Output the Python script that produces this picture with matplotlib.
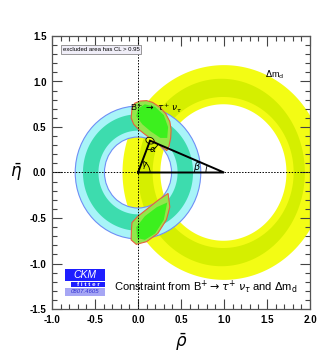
import matplotlib
matplotlib.use("Agg")
import matplotlib.pyplot as plt
import numpy as np
from matplotlib.path import Path
from matplotlib.patches import PathPatch, Arc, Ellipse, Rectangle

plt.rcParams['font.family'] = ['Liberation Sans', 'DejaVu Sans']
plt.rcParams['axes.unicode_minus'] = False
plt.rcParams['mathtext.fontset'] = 'dejavusans'

# axis ticks
rho_ticks = [-1.0, -0.5, 0.0, 0.5, 1.0, 1.5, 2.0]
eta_ticks = [-1.5, -1.0, -0.5, 0.0, 0.5, 1.0, 1.5]

# B+ -> tau nu ring, centred on the origin: outer, 1 sigma outer, 1 sigma inner, inner
btau_radii = [0.73, 0.64, 0.46, 0.39]

# Delta m_d ring around (1, 0): (centre rho, half width, half height)
dmd_outer = (1.00, 1.18, 1.18)
dmd_dark_outer = (0.97, 0.97, 1.03)
dmd_dark_inner = (0.99, 0.82, 0.83)
dmd_inner = (0.993, 0.733, 0.75)

# combined regions
top_rho = [-0.07, -0.04, 0.02, 0.10, 0.17, 0.25, 0.32, 0.37, 0.385, 0.38, 0.36, 0.335,
           0.28, 0.18, 0.08, 0.00, -0.05, -0.08]
top_eta = [0.70, 0.76, 0.785, 0.79, 0.77, 0.72, 0.65, 0.56, 0.47, 0.38, 0.29, 0.24,
           0.28, 0.35, 0.42, 0.48, 0.53, 0.60]
top_in_rho = [0.00, 0.08, 0.20, 0.30, 0.35, 0.34, 0.26, 0.15, 0.05, -0.02]
top_in_eta = [0.70, 0.75, 0.72, 0.63, 0.50, 0.38, 0.38, 0.45, 0.53, 0.62]

bot_rho = [0.35, 0.37, 0.33, 0.23, 0.10, -0.02, -0.08, -0.077, -0.07, 0.00, 0.12, 0.24]
bot_eta = [-0.23, -0.38, -0.52, -0.67, -0.76, -0.79, -0.74, -0.64, -0.55, -0.48, -0.39, -0.30]
bot_in_rho = [0.34, 0.30, 0.20, 0.08, -0.01, -0.02, 0.08, 0.22]
bot_in_eta = [-0.33, -0.52, -0.67, -0.74, -0.72, -0.60, -0.48, -0.38]

apex = (0.14, 0.35)


def ellipse_xy(cx, a, b, n=240):
    t = np.linspace(0, 2 * np.pi, n)
    return np.column_stack([cx + a * np.cos(t), b * np.sin(t)])


def ring(ax, outer, inner, **kw):
    vo = ellipse_xy(*outer)
    vi = ellipse_xy(*inner)[::-1]
    n = len(vo)
    codes = ([Path.MOVETO] + [Path.LINETO] * (n - 1)) * 2
    ax.add_patch(PathPatch(Path(np.vstack([vo, vi]), codes), **kw))


fig = plt.figure(figsize=(3.27, 3.6), dpi=100)
ax = fig.add_axes([52 / 327, 1 - 309 / 360, 258 / 327, 273 / 360])
ax.set_xlim(-1.0, 2.0)
ax.set_ylim(-1.5, 1.5)

# Delta m_d
ring(ax, dmd_outer, dmd_inner, fc='#f3fc14', ec='none', zorder=1)
ring(ax, dmd_dark_outer, dmd_dark_inner, fc='#d5ef00', ec='none', zorder=1.1)

# B -> tau nu
r0, r1, r2, r3 = btau_radii
ring(ax, (0, r0, r0), (0, r3, r3), fc='#a8f4f8', ec='none', zorder=2)
ring(ax, (0, r1, r1), (0, r2, r2), fc='#3ddcae', ec='none', zorder=2.1)
for r in (r0, r3):
    ax.add_patch(Ellipse((0, 0), 2 * r, 2 * r, fc='none', ec='#6f8ef5', lw=0.8, zorder=2.2))

# combined regions
ax.fill(top_rho, top_eta, fc='#93e64c', ec='#e8603c', lw=0.8, zorder=3)
ax.fill(top_in_rho, top_in_eta, fc='#3cf01e', ec='none', zorder=3.1)
ax.fill(bot_rho, bot_eta, fc='#93e64c', ec='#e8603c', lw=0.8, zorder=3)
ax.fill(bot_in_rho, bot_in_eta, fc='#3cf01e', ec='none', zorder=3.1)

# dotted axes
ax.axvline(0, color='k', ls=(0, (1.5, 1.5)), lw=0.7, zorder=4)
ax.axhline(0, color='k', ls=(0, (1.5, 1.5)), lw=0.7, zorder=4)

# unitarity triangle
ax.plot([0, apex[0], 1, 0], [0, apex[1], 0, 0], color='k', lw=1.4, zorder=5,
        solid_joinstyle='miter')
ax.add_patch(Ellipse(apex, 0.1, 0.07, angle=-20, fc='#f3fc14', ec='k', lw=0.6, zorder=4.5))
g = np.degrees(np.arctan2(apex[1], apex[0]))
b = np.degrees(np.arctan2(apex[1], 1 - apex[0]))
ax.add_patch(Arc((0, 0), 0.28, 0.28, theta1=0, theta2=g, color='k', lw=0.6, zorder=5))
ax.add_patch(Arc((1, 0), 0.42, 0.42, theta1=180 - b, theta2=180, color='k', lw=0.6, zorder=5))
ax.add_patch(Arc(apex, 0.2, 0.2, theta1=180 + g, theta2=360 - b, color='k', lw=0.6, zorder=5))
ax.text(0.08, 0.075, r'$\gamma$', fontsize=6, ha='center', va='center', zorder=6)
ax.text(0.69, 0.06, r'$\beta$', fontsize=7, ha='center', va='center', zorder=6)
ax.text(0.17, 0.25, r'$\alpha$', fontsize=6.5, ha='center', va='center', zorder=6)

# labels
ax.text(-0.09, 0.70, r'B$^{+}$ $\rightarrow$ $\tau^{+}$ $\nu_{\tau}$', fontsize=6.5,
        ha='left', va='center', zorder=6)
ax.text(1.48, 1.07, r'$\Delta$m$_{\rm d}$', fontsize=6.5, ha='left', va='center', zorder=6)
ax.text(-0.28, -1.26, r'Constraint from B$^{+}$$\rightarrow$$\tau^{+}$ $\nu_{\tau}$ and $\Delta$m$_{\rm d}$',
        fontsize=8, ha='left', va='center', zorder=6)
ax.text(-0.43, 1.355, 'excluded area has CL > 0.95', fontsize=4.3, ha='center', va='center',
        zorder=6, bbox=dict(boxstyle='square,pad=0.35', fc='#f0eef8', ec='#888888', lw=0.6))

# CKMfitter logo
ax.add_patch(Rectangle((-0.85, -1.19), 0.47, 0.125, fc='#1e1eff', ec='none', zorder=6))
ax.add_patch(Rectangle((-0.85, -1.265), 0.47, 0.075, fc='white', ec='none', zorder=6))
ax.add_patch(Rectangle((-0.78, -1.26), 0.40, 0.055, fc='#1e1eff', ec='none', zorder=6))
ax.add_patch(Rectangle((-0.85, -1.36), 0.47, 0.095, fc='#a6a6f4', ec='none', zorder=6))
ax.text(-0.615, -1.128, 'CKM', color='white', fontsize=7.5, style='italic', ha='center',
        va='center', zorder=7)
ax.text(-0.58, -1.232, 'f i t t e r', color='white', fontsize=4.5, weight='bold', ha='center',
        va='center', zorder=7)
ax.text(-0.615, -1.312, '0807.4605', color='#2a2ad0', fontsize=4.3, style='italic',
        ha='center', va='center', zorder=7)

# axes style
ax.set_xticks(rho_ticks)
ax.set_xticklabels(['%.1f' % v for v in rho_ticks])
ax.set_yticks(eta_ticks)
ax.set_yticklabels(['%.1f' % v for v in eta_ticks])
ax.xaxis.set_minor_locator(matplotlib.ticker.MultipleLocator(0.1))
ax.yaxis.set_minor_locator(matplotlib.ticker.MultipleLocator(0.1))
ax.tick_params(which='both', direction='in', top=True, right=True, width=0.8,
               labelsize=7, color='#444444')
ax.tick_params(which='major', length=7, pad=4)
ax.tick_params(which='minor', length=3.5)
for lab in ax.get_xticklabels() + ax.get_yticklabels():
    lab.set_fontweight('bold')
for s in ax.spines.values():
    s.set_color('#555555')
    s.set_linewidth(0.9)
    s.set_zorder(8)

fig.text(181 / 327, 1 - 342 / 360, r'$\bar{\rho}$', fontsize=12, ha='center', va='center')
fig.text(16 / 327, 1 - 172 / 360, r'$\bar{\eta}$', fontsize=12, ha='center', va='center')

fig.savefig('out.png', dpi=100)
